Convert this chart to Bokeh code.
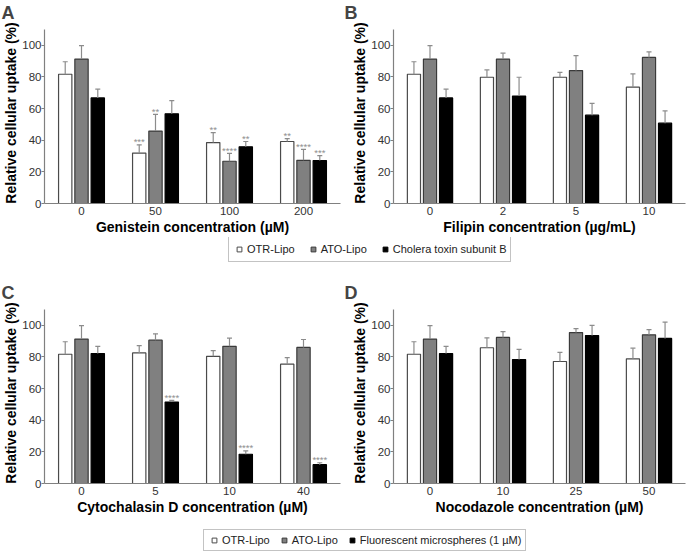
from bokeh.plotting import figure
from bokeh.models import FactorRange, Range1d, Legend, LegendItem, ColumnDataSource
from bokeh.transform import dodge
from bokeh.layouts import column, row
from bokeh.core.properties import value
from bokeh.embed import file_html
from bokeh.resources import INLINE

FONT = "Liberation Sans"

# ---------------- data ----------------
y_ticks = [0, 20, 40, 60, 80, 100]
y_axis_top = 110

# Panel A: Genistein
A_groups = ["0", "50", "100", "200"]
A_otr = [81.7, 31.9, 38.5, 39.2]
A_otr_sd = [7.9, 5.2, 6.3, 1.8]
A_ato = [91.3, 45.8, 26.7, 27.3]
A_ato_sd = [8.5, 10.5, 5.0, 6.9]
A_ctb = [66.7, 56.7, 35.8, 27.1]
A_ctb_sd = [5.6, 8.3, 3.4, 3.1]
A_otr_sig = ["", "***", "**", "**"]
A_ato_sig = ["", "**", "****", "****"]
A_ctb_sig = ["", "", "**", "***"]

# Panel B: Filipin
B_groups = ["0", "2", "5", "10"]
B_otr = [81.7, 79.8, 79.8, 73.5]
B_otr_sd = [7.9, 4.6, 3.1, 8.4]
B_ato = [91.3, 91.3, 84.0, 92.3]
B_ato_sd = [8.5, 3.7, 9.5, 3.5]
B_ctb = [66.7, 67.9, 55.8, 50.8]
B_ctb_sd = [5.6, 11.9, 7.5, 7.7]

# Panel C: Cytochalasin D
C_groups = ["0", "5", "10", "40"]
C_otr = [81.7, 82.5, 80.4, 75.4]
C_otr_sd = [7.9, 4.6, 3.6, 4.2]
C_ato = [91.3, 90.6, 86.7, 86.0]
C_ato_sd = [8.5, 4.0, 5.2, 5.0]
C_fm = [82.1, 51.5, 18.5, 11.9]
C_fm_sd = [4.6, 1.0, 2.1, 1.2]
C_fm_sig = ["", "****", "****", "****"]

# Panel D: Nocodazole
D_groups = ["0", "10", "25", "50"]
D_otr = [81.7, 85.8, 77.1, 78.8]
D_otr_sd = [7.9, 6.3, 5.8, 6.7]
D_ato = [91.3, 92.3, 95.4, 94.0]
D_ato_sd = [8.5, 3.7, 2.5, 3.3]
D_fm = [82.1, 78.3, 93.5, 91.7]
D_fm_sd = [4.6, 6.5, 6.5, 10.3]

legend_top = ["OTR-Lipo", "ATO-Lipo", "Cholera toxin subunit B"]
legend_bottom = ["OTR-Lipo", "ATO-Lipo", "Fluorescent microspheres (1 \u00b5M)"]

y_label = "Relative cellular uptake (%)"

# ---------------- style ----------------
FILLS = ["white", "#808080", "black"]
LINES = ["#4a4a4a", "#3a3a3a", "black"]
ERR = "#8c8c8c"
AXIS = "#808080"
OFFSETS = [-0.22, 0.0, 0.22]
Y_VIEW_MAX = 114.4


def make_panel(letter, groups, vals, sds, sigs, xlabel, width, height,
               b_left, b_right, b_top, title_off):
    p = figure(x_range=FactorRange(factors=groups), y_range=Range1d(0, Y_VIEW_MAX),
               width=width, height=height, output_backend="svg",
               toolbar_location=None, title=letter,
               min_border_left=b_left, min_border_right=b_right,
               min_border_top=b_top, min_border_bottom=0)
    for i in range(3):
        hi = [v + s for v, s in zip(vals[i], sds[i])]
        src = ColumnDataSource(dict(g=groups, v=vals[i], hi=hi, sig=sigs[i]))
        xd = dodge("g", OFFSETS[i], range=p.x_range)
        p.vbar(x=xd, top="v", width=0.18, source=src,
               fill_color=FILLS[i], line_color=LINES[i], line_width=1.2)
        p.segment(x0=xd, y0="v", x1=xd, y1="hi", source=src,
                  line_color=ERR, line_width=1.2)
        p.scatter(x=xd, y="hi", marker="dash", size=5, source=src,
                  line_color=ERR, line_width=1.2)
        p.text(x=xd, y="hi", text="sig", source=src, text_align="center",
               text_baseline="alphabetic", y_offset=-3,
               text_font=value(FONT), text_font_size="9.5px",
               text_color="#8f8f8f")
    p.title.text_font = FONT
    p.title.text_font_size = "18px"
    p.title.text_font_style = "bold"
    p.title.align = "left"
    p.title.offset = title_off
    p.title.standoff = 0
    p.xgrid.visible = False
    p.ygrid.visible = False
    p.outline_line_color = None
    for ax in (p.xaxis[0], p.yaxis[0]):
        ax.axis_line_color = AXIS
        ax.axis_line_width = 1.2
        ax.major_tick_line_color = AXIS
        ax.minor_tick_line_color = None
        ax.major_tick_in = 0
        ax.major_tick_out = 3
        ax.major_label_text_font = FONT
        ax.major_label_text_font_size = "11.5px"
        ax.major_label_text_color = "#333333"
        ax.major_label_standoff = 1
        ax.axis_label_text_font = FONT
        ax.axis_label_text_font_size = "14px"
        ax.axis_label_text_font_style = "bold"
        ax.axis_label_text_color = "black"
        ax.axis_label_standoff = 1
    p.xaxis.major_tick_line_color = None
    p.xaxis.major_tick_out = 0
    p.xaxis.major_label_standoff = 3
    p.yaxis.major_label_standoff = 0
    p.yaxis.axis_label_standoff = 0
    p.xaxis.axis_label = xlabel
    p.yaxis.axis_label = y_label
    p.yaxis.ticker = y_ticks
    p.yaxis.bounds = (0, y_axis_top)
    return p


def make_legend(labels, x_loc, y_loc, height, spacing, item_h):
    p = figure(width=686, height=height, x_range=Range1d(0, 1), y_range=Range1d(0, 1),
               toolbar_location=None, output_backend="svg", min_border=0,
               x_axis_location=None, y_axis_location=None)
    p.xgrid.visible = False
    p.ygrid.visible = False
    p.outline_line_color = None
    items = []
    for lab, fc, lc in zip(labels, FILLS, LINES):
        # legend-only renderer: a single NaN point, nothing is drawn in the plot
        r = p.scatter(x=[float("nan")], y=[float("nan")], marker="square",
                      fill_color=fc, line_color=lc, line_width=1)
        items.append(LegendItem(label=lab, renderers=[r]))
    leg = Legend(items=items, orientation="horizontal", location=(x_loc, y_loc),
                 label_text_font=FONT, label_text_font_size="11px",
                 label_text_color="#222222", label_height=item_h, label_standoff=2,
                 glyph_width=12, glyph_height=item_h, spacing=spacing, padding=4,
                 margin=0, border_line_color="#888888", border_line_width=1)
    p.add_layout(leg)
    return p


empty = ["", "", "", ""]
pA = make_panel("A", A_groups, [A_otr, A_ato, A_ctb], [A_otr_sd, A_ato_sd, A_ctb_sd],
                [A_otr_sig, A_ato_sig, A_ctb_sig], "Genistein concentration (\u00b5M)",
                343, 237, 44, 3, 0, -43)
pB = make_panel("B", B_groups, [B_otr, B_ato, B_ctb], [B_otr_sd, B_ato_sd, B_ctb_sd],
                [empty, empty, empty], "Filipin concentration (\u00b5g/mL)",
                343, 237, 50, 1, 0, -49)
legA = make_legend(legend_top, 228, 1, 26, 12, 16)
pC = make_panel("C", C_groups, [C_otr, C_ato, C_fm], [C_otr_sd, C_ato_sd, C_fm_sd],
                [empty, empty, C_fm_sig], "Cytochalasin D concentration (\u00b5M)",
                343, 254, 44, 3, 39, -43)
pD = make_panel("D", D_groups, [D_otr, D_ato, D_fm], [D_otr_sd, D_ato_sd, D_fm_sd],
                [empty, empty, empty], "Nocodazole concentration (\u00b5M)",
                343, 254, 50, 1, 39, -49)
legC = make_legend(legend_bottom, 203, 1, 35, 8, 12)

layout = column(row(pA, pB), legA, row(pC, pD), legC)

open("out.html", "w").write(file_html(layout, INLINE))
